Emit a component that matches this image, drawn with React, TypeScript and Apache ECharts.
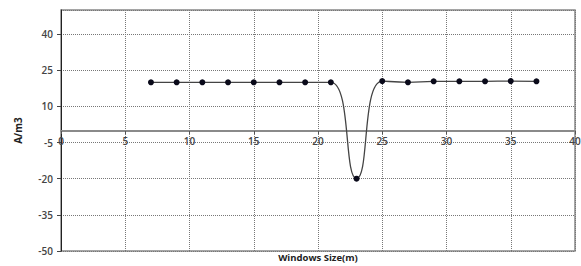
import React, { useEffect, useRef } from "react";
import * as echarts from "echarts";

const windowSizes = [7, 9, 11, 13, 15, 17, 19, 21, 23, 25, 27, 29, 31, 33, 35, 37];
const values = [20, 20, 20, 20, 20, 20, 20, 20, -20, 20.5, 20, 20.4, 20.4, 20.4, 20.5, 20.4];
const xTitle = "Windows Size(m)";
const yTitle = "A/m3";

export default function App() {
  const ref = useRef<HTMLDivElement>(null);
  useEffect(() => {
    if (!ref.current) return;
    const chart = echarts.init(ref.current, undefined, { renderer: "svg" });
    const font = "'Open Sans', 'Liberation Sans', sans-serif";
    const gridStyle = { color: "#777", type: "dotted", width: 1 };
    chart.setOption({
      animation: false,
      backgroundColor: "#fff",
      grid: {
        left: 61,
        right: 6,
        top: 10,
        bottom: 15,
        containLabel: false,
        outerBoundsMode: "none",
        show: true,
        borderColor: "#888",
        borderWidth: 1.5,
      },
      xAxis: [
        {
          type: "value",
          min: 0,
          max: 40,
          interval: 5,
          offset: -120,
          name: xTitle,
          nameLocation: "middle",
          nameGap: 121,
          nameTextStyle: { fontFamily: font, fontSize: 9.5, fontWeight: "bold", color: "#222" },
          axisLine: { onZero: false, lineStyle: { color: "#8a8a8a", width: 2 } },
          axisTick: { show: true, inside: false, length: 3, lineStyle: { color: "#555" } },
          axisLabel: { fontFamily: font, fontSize: 10, color: "#444", fontWeight: 600, margin: 5 },
          splitLine: { show: true, lineStyle: gridStyle },
        },
      ],
      yAxis: {
        type: "value",
        min: -50,
        max: 50,
        interval: 15,
        name: yTitle,
        nameLocation: "middle",
        nameGap: 38,
        nameTextStyle: { fontFamily: font, fontSize: 10, fontWeight: "bold", color: "#222" },
        axisLine: { show: true, onZero: false, lineStyle: { color: "#222", width: 1 } },
        axisTick: { show: true, length: 4, lineStyle: { color: "#444" } },
        axisLabel: { fontFamily: font, fontSize: 10, color: "#444", fontWeight: 600, margin: 8, showMaxLabel: false },
        splitLine: { show: true, lineStyle: gridStyle },
      },
      series: [
        {
          type: "line",
          data: windowSizes.map((x, i) => [x, values[i]]),
          smooth: 0.5,
          symbol: "circle",
          symbolSize: 6,
          itemStyle: { color: "#0a0a1a" },
          lineStyle: { color: "#444", width: 1.3 },
        },
      ],
    });
    return () => chart.dispose();
  }, []);
  return <div ref={ref} style={{ width: 581, height: 266, position: "absolute", left: 0, top: 0 }} />;
}
